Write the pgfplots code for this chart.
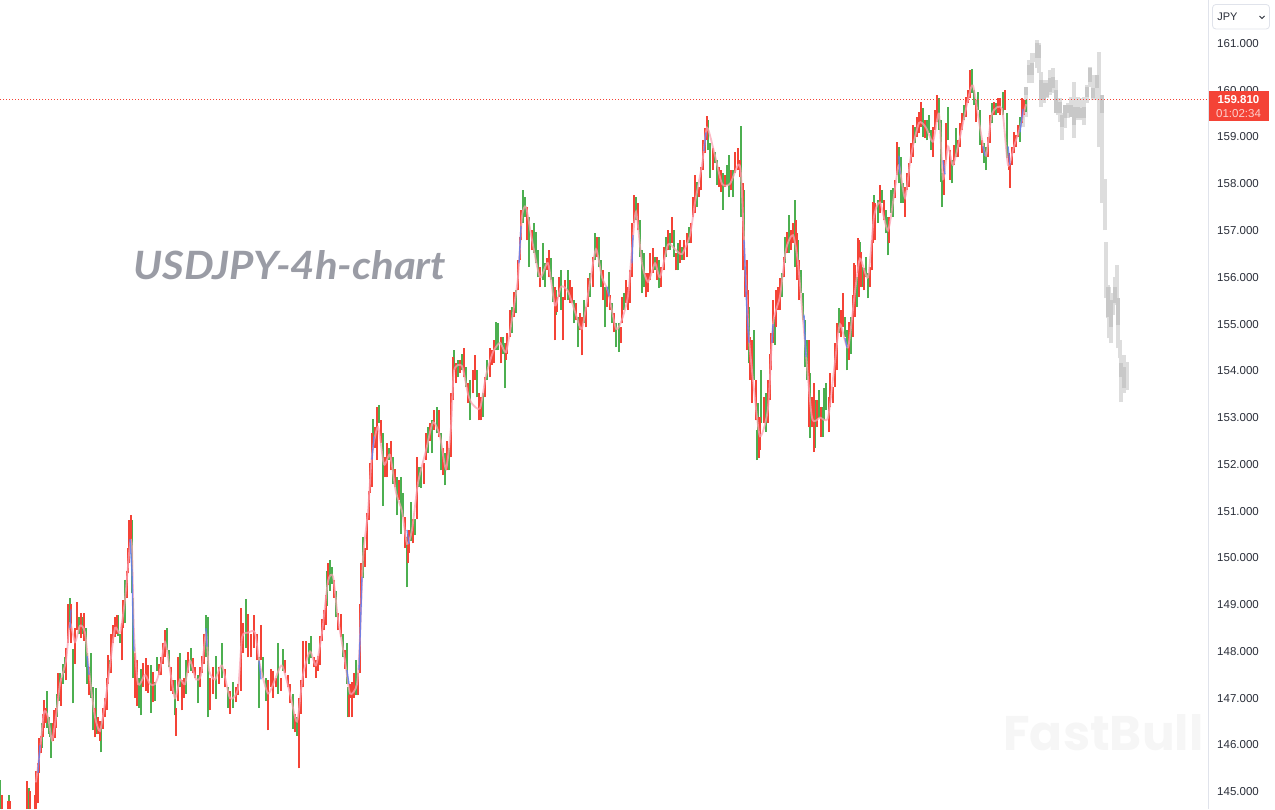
\documentclass[border=0pt]{standalone}
\usepackage{fontspec}
\setmainfont{Liberation Sans}
\newfontfamily\titlefont{Lato}
\newfontfamily\wmfont{Poppins}
\usepackage{pgfplots}
\usepackage{pgfplotstable}
\pgfplotsset{compat=1.18}
\definecolor{cR}{HTML}{F44336}
\definecolor{cG}{HTML}{4CAF50}
\definecolor{cB}{HTML}{5B7CF0}
\definecolor{cP}{HTML}{FBA3B3}
\definecolor{gW}{HTML}{DDDDDD}
\definecolor{gB}{HTML}{C8C8C8}
\definecolor{axc}{HTML}{E0E3EB}
\definecolor{txt}{HTML}{2A2E39}
\pgfplotstableread{
x lo hi
2 144.62 144.92
8 144.62 144.81
10 144.62 144.81
27 144.62 145.22
30 144.62 145.02
35 144.62 144.92
36 144.62 145.45
38 144.75 145.62
39 145.39 146.14
41 145.82 146.20
43 146.16 146.67
44 146.37 146.97
46 146.46 146.80
53 146.09 146.46
54 146.20 146.74
55 146.14 146.52
56 146.37 146.80
58 146.95 147.53
61 146.84 147.44
66 147.38 148.08
68 148.17 149.02
71 148.17 149.02
75 147.74 148.51
77 148.45 149.05
81 148.28 148.83
84 148.23 148.83
89 147.06 147.66
95 146.16 146.80
98 146.24 146.59
100 146.09 146.52
103 146.35 146.80
105 146.59 147.01
107 146.74 147.44
108 147.31 147.93
111 147.53 148.38
113 148.17 148.56
115 148.30 148.73
117 148.38 148.77
122 147.81 148.60
123 148.51 149.09
127 149.15 149.73
128 149.67 150.22
129 149.88 150.80
131 150.31 150.91
135 147.01 147.96
137 146.84 147.81
143 147.23 147.76
146 147.16 147.85
148 147.12 147.70
153 146.91 147.55
159 147.49 147.74
161 147.49 147.87
163 147.74 148.17
165 147.87 148.45
171 147.16 147.66
173 147.10 147.38
176 146.20 146.80
178 146.95 147.87
182 146.74 147.38
184 147.01 147.44
188 147.53 147.98
193 147.53 147.85
195 147.44 147.66
200 147.23 147.66
202 147.53 147.91
204 147.74 148.38
210 146.74 147.44
213 147.10 147.66
219 147.31 147.66
225 147.23 147.63
230 146.67 147.16
236 146.91 147.23
238 147.06 147.31
241 147.16 148.92
243 147.96 148.60
248 147.87 148.81
251 147.87 148.38
254 148.08 148.77
257 147.81 148.38
261 147.81 148.56
268 146.31 147.38
271 147.23 147.63
273 147.01 147.59
276 147.23 147.44
281 147.16 147.44
285 147.53 147.81
288 147.23 147.49
290 146.89 147.31
295 146.27 146.67
299 145.50 147.01
301 146.67 147.38
303 147.23 148.23
306 147.44 148.23
314 147.66 147.87
316 147.44 147.81
318 147.59 147.91
320 147.70 148.34
322 148.23 148.70
324 148.45 148.88
326 148.56 149.20
328 149.41 149.90
334 149.15 149.52
338 148.45 148.83
341 148.30 148.81
345 147.63 148.02
349 146.59 147.06
350 147.01 147.31
352 146.59 147.34
354 147.01 147.53
358 147.06 147.53
360 147.53 149.02
361 149.02 149.88
365 149.80 150.22
367 150.16 150.95
369 150.80 151.44
370 151.38 152.02
372 151.51 152.66
375 152.36 152.79
377 152.09 153.22
381 152.45 152.94
385 151.72 152.15
387 151.72 152.45
391 151.87 152.51
395 151.51 151.91
399 151.23 151.66
405 150.22 150.87
408 149.88 150.52
409 150.10 150.59
413 150.31 150.84
417 150.84 152.15
424 151.59 152.02
426 152.09 152.66
430 152.51 152.88
434 152.73 153.16
439 152.58 153.16
443 151.77 152.36
447 151.87 152.51
451 152.15 153.52
453 153.37 154.29
456 153.73 154.16
460 153.95 154.23
464 153.86 154.48
468 153.31 153.73
473 153.52 154.01
475 153.80 154.33
479 152.94 153.52
481 152.94 153.43
485 153.43 153.86
490 153.86 154.48
492 154.12 154.44
494 154.16 154.65
501 154.16 154.72
506 154.23 154.59
507 154.37 154.80
510 154.72 155.30
514 155.15 155.68
518 155.72 156.37
520 156.37 156.86
521 156.79 157.44
527 156.79 157.50
532 156.58 157.01
540 155.79 156.22
547 156.15 156.41
549 156.00 156.58
555 154.65 155.79
557 155.25 155.57
559 155.57 156.00
563 154.65 155.57
565 155.51 155.94
570 155.45 155.94
572 155.45 155.79
576 155.08 155.45
580 154.87 155.23
582 154.33 155.15
586 154.93 155.36
588 155.36 155.98
593 155.79 156.43
597 156.43 156.86
603 155.51 156.15
607 155.36 155.79
610 155.30 155.62
614 154.83 155.23
621 154.59 154.93
622 155.02 155.57
626 155.45 155.94
628 155.30 155.79
630 155.45 156.15
632 156.00 157.16
634 157.16 157.76
638 157.01 157.59
646 155.57 156.09
648 155.68 156.09
650 155.94 156.52
653 156.09 156.62
657 155.94 156.43
661 155.79 156.22
664 156.15 156.64
668 156.58 157.01
672 156.73 157.29
676 156.15 156.52
680 156.30 156.79
684 156.37 156.79
687 156.43 156.94
691 156.73 157.16
693 157.29 157.71
695 157.37 158.19
699 157.71 157.93
701 157.86 158.36
703 158.29 158.93
705 158.66 159.19
707 158.93 159.45
713 158.29 158.76
719 157.93 158.36
721 157.82 158.29
725 157.93 158.19
731 157.86 158.29
735 158.23 158.68
738 158.29 158.76
740 158.14 158.51
743 156.15 158.01
745 155.57 156.15
747 154.44 156.37
748 154.93 155.72
750 153.80 154.72
752 153.31 154.65
756 152.94 153.80
759 152.13 153.01
760 152.30 153.01
764 152.88 153.43
768 152.88 153.80
770 153.37 154.37
771 154.01 154.80
773 154.59 155.51
776 154.93 155.72
778 155.30 155.79
780 155.30 155.98
784 156.00 156.43
787 156.52 156.97
791 156.58 157.01
793 156.73 157.16
796 156.69 157.22
797 155.94 156.94
799 155.51 156.37
809 152.79 154.65
812 152.79 153.43
814 152.26 153.75
817 152.79 153.37
821 152.58 153.22
829 152.69 153.43
830 153.22 153.95
833 153.31 153.65
835 153.65 154.59
837 154.01 155.02
841 154.72 155.30
843 154.93 155.66
849 154.23 155.04
853 154.72 155.62
854 155.51 156.30
855 155.15 156.26
858 156.09 156.84
859 155.57 156.79
861 155.79 156.54
864 155.72 156.19
870 155.79 156.22
872 156.15 156.79
873 156.73 157.61
875 156.79 157.59
880 157.37 157.97
884 157.22 157.65
889 156.73 157.29
895 157.69 158.08
897 158.19 158.89
905 157.29 157.93
907 157.86 158.23
909 157.93 158.44
911 158.44 158.87
913 158.57 159.25
917 159.00 159.43
919 159.08 159.53
921 159.21 159.75
925 158.98 159.36
933 158.57 159.21
935 159.15 159.58
937 159.32 159.90
944 157.76 158.51
946 158.51 159.30
950 158.08 158.72
954 158.40 158.83
958 158.57 158.93
960 158.78 159.30
962 159.15 159.51
966 159.43 159.85
968 159.73 160.00
970 159.83 160.43
976 159.32 159.79
982 158.66 158.93
988 158.57 159.00
990 158.87 159.47
994 159.47 159.75
998 159.51 159.83
1000 159.47 159.83
1005 159.58 160.00
1009 158.29 158.66
1010 157.91 158.44
1012 158.40 158.78
1014 158.66 159.11
1016 158.78 159.04
1018 159.00 159.25
1022 159.30 159.83
1024 159.47 159.79
}\redsticks
\pgfplotstableread{
x lo hi
0 144.62 145.24
9 144.62 144.92
29 144.62 145.07
42 145.94 146.46
47 146.37 147.16
49 146.24 146.59
50 146.16 146.46
51 145.73 146.46
57 146.59 147.10
60 146.95 147.53
63 147.31 147.74
65 147.53 147.87
70 148.45 149.15
73 146.89 148.06
79 148.38 148.73
83 148.38 148.73
86 147.66 148.51
87 147.31 147.96
91 147.01 147.96
93 146.31 147.23
96 146.24 147.21
101 145.84 146.52
110 147.53 147.81
118 148.34 148.77
120 148.17 148.38
125 148.60 149.52
132 149.24 150.80
131.5 150.31 150.87
133 147.44 149.15
139 146.80 147.44
141 146.63 147.63
151 146.69 147.70
155 146.95 147.34
157 147.59 147.87
167 148.02 148.51
169 147.66 148.02
175 146.63 147.38
180 147.23 147.96
186 147.10 147.81
191 147.59 148.08
198 146.89 147.49
206 147.87 148.77
208 146.59 148.73
216 146.99 147.91
222 147.44 148.17
228 146.80 147.23
233 146.78 147.34
246 148.08 149.13
259 146.80 147.87
263 147.44 147.87
266 146.95 147.44
278 147.10 148.17
283 147.59 148.06
293 146.35 147.10
297 146.20 146.59
309 147.74 148.19
311 147.85 148.34
327 148.98 149.73
330 149.30 149.95
332 149.45 149.80
336 148.73 149.30
343 147.87 148.38
347 147.31 148.17
348 146.59 147.23
356 147.06 147.81
363 149.58 150.44
373 152.45 152.98
379 152.88 153.26
383 151.12 152.66
389 152.09 152.36
393 151.59 152.15
397 150.91 151.72
401 150.52 151.72
403 150.87 151.38
407 149.37 150.44
411 150.37 151.19
415 150.48 150.84
419 151.51 151.94
421 151.49 151.94
428 152.24 152.79
432 152.24 152.94
437 152.66 153.22
441 151.87 152.66
445 151.55 152.24
449 151.87 152.36
454 154.01 154.44
458 153.86 154.23
462 154.01 154.37
466 153.65 154.08
470 152.94 153.80
477 153.43 154.01
483 153.01 153.52
487 153.80 154.23
496 154.44 155.04
498 154.44 155.02
503 154.37 154.72
505 153.63 154.59
512 154.80 155.36
516 155.23 155.72
523 157.16 157.86
525 157.29 157.71
529 156.22 157.29
534 156.52 157.16
536 156.30 156.97
538 156.00 156.58
543 155.94 156.73
545 155.79 156.30
551 155.94 156.41
553 155.47 156.00
556 155.19 155.72
561 155.30 156.15
568 155.51 156.15
574 155.02 155.51
578 154.50 155.15
584 155.02 155.51
590 155.57 156.09
595 156.37 156.94
599 156.22 156.86
601 155.79 156.37
605 154.93 155.79
609 155.57 156.11
612 155.02 155.45
616 154.50 155.02
619 154.40 155.02
624 155.30 155.66
636 157.22 157.71
640 156.43 157.22
642 155.66 156.58
644 155.79 156.52
655 156.15 156.43
659 155.77 156.37
666 156.43 156.86
670 156.58 156.94
674 156.43 157.01
678 156.15 156.73
682 156.37 156.64
689 156.73 157.07
697 157.50 158.03
708 158.72 159.36
710 158.12 158.87
715 158.44 158.68
717 157.97 158.51
723 157.44 158.23
727 157.97 158.40
729 157.71 158.61
733 157.71 158.29
741 157.29 159.23
744 156.15 157.86
749 154.16 155.36
754 153.80 154.87
758 152.58 153.31
757 152.09 152.73
761 152.88 154.01
766 152.69 153.52
775 154.55 155.15
782 155.57 156.09
785 156.30 156.86
789 156.52 157.33
795 156.22 157.65
798 156.26 156.79
801 155.66 156.15
803 155.08 155.66
805 154.08 155.08
807 153.80 154.65
810 152.56 153.95
815 152.34 153.37
819 153.00 153.58
823 152.58 153.22
824 152.94 153.63
826 153.16 153.75
839 154.80 155.34
845 154.72 155.15
847 154.01 154.87
851 154.37 155.15
857 155.36 156.00
860 156.22 156.75
862 155.79 156.22
866 156.00 156.43
868 155.55 156.09
874 157.16 157.76
878 157.16 157.65
882 157.59 157.86
886 156.94 157.43
888 156.47 157.29
891 157.37 157.86
893 157.29 157.91
899 158.01 158.78
901 157.59 158.57
903 157.59 158.01
915 158.87 159.21
923 159.00 159.62
927 158.93 159.36
929 159.08 159.47
931 158.72 159.15
939 159.15 159.83
941 158.04 159.36
942 157.50 158.23
948 158.93 159.64
952 158.01 158.51
956 158.57 159.19
964 159.36 159.68
972 159.94 160.45
974 159.68 160.00
978 159.58 159.96
980 158.83 159.58
984 158.44 158.87
986 158.29 158.78
992 159.30 159.73
996 159.47 159.73
1003 159.47 159.96
1007 158.55 159.51
1020 158.89 159.43
1026 159.53 159.79
}\greensticks
\pgfplotstableread{
x lo hi
1023 159.21 159.75
1026 159.43 160.07
1029 160.15 160.65
1032 160.15 160.80
1035 160.60 160.80
1037 160.47 161.07
1039 160.37 161.01
1041 159.64 160.39
1044 159.73 160.22
1047 159.83 160.22
1050 159.90 160.43
1053 159.94 160.47
1056 159.51 160.22
1058 159.47 159.83
1060 159.32 159.83
1062 158.93 159.51
1065 159.19 159.68
1068 159.40 159.73
1071 159.43 159.85
1074 158.98 160.18
1078 159.36 159.85
1081 159.36 159.83
1084 159.25 159.85
1087 159.73 160.11
1090 160.07 160.50
1093 159.79 160.33
1097 159.79 160.33
1099 158.78 160.82
1102 157.59 159.90
1105 157.01 158.10
1106 155.55 156.75
1108 155.12 155.83
1109 154.70 155.79
1111 154.59 155.66
1113 155.19 155.57
1115 155.40 156.00
1117 155.45 156.26
1118 154.48 155.55
1120 154.27 154.65
1121 153.33 154.27
1124 153.52 154.33
1127 153.58 154.18
}\greywicks
\pgfplotstableread{
x lo hi
1026 159.90 160.07
1029 160.33 160.54
1032 160.33 160.58
1037 160.69 161.01
1039 160.69 160.97
1041 159.79 160.22
1044 159.79 160.15
1047 159.85 160.15
1050 159.96 160.26
1053 160.05 160.28
1056 159.51 160.00
1060 159.51 159.75
1062 159.21 159.47
1065 159.40 159.68
1068 159.51 159.68
1071 159.43 159.68
1074 159.25 159.64
1078 159.40 159.64
1081 159.40 159.62
1084 159.40 159.64
1087 159.85 160.07
1090 160.18 160.47
1093 159.83 160.05
1097 160.05 160.33
1102 159.51 159.90
1108 155.15 155.79
1111 154.93 155.51
1115 155.45 155.79
1118 154.98 155.55
1121 153.86 154.16
1124 153.63 154.08
}\greybodies
\pgfplotsset{
  stick/.style 2 args={draw=none,mark=none,forget plot,
    error bars/.cd,y dir=plus,y explicit,error mark=none,
    error bar style={draw=#1,line width=#2,line cap=butt,solid}},
}
\begin{document}
\begin{tikzpicture}[x=1pt,y=1pt]
\path[use as bounding box] (0,0) rectangle (765pt,485.4pt);
\begin{scope}[x=0.6pt,y=-0.6pt,yshift=485.4pt]
  \node[anchor=base west,inner sep=0,text=black!3.5] at (1003,750) {\wmfont\bfseries\fontsize{29.2}{30}\selectfont FastBull};
\end{scope}
\begin{axis}[
  at={(0,0)},anchor=south west,scale only axis,
  width=724.8pt,height=485.4pt,
  xmin=0,xmax=1208,ymin=144.63,ymax=161.93,
  hide x axis,
  axis y line=right,
  axis line style={-,draw=axc,line width=0.6pt},
  ytick={145,146,...,161},
  major tick length=0pt,
  tick style={draw=none},
  yticklabel style={font=\fontsize{6.9}{8}\selectfont,text=txt,xshift=2pt,/pgf/number format/.cd,fixed,fixed zerofill,precision=3,1000 sep={},assume math mode=true},
  unbounded coords=jump,
]
\addplot[stick={gW}{2.1pt}] table[x=x,y=lo,y error expr=\thisrow{hi}-\thisrow{lo}]{\greywicks};
\addplot[stick={gB}{2.1pt}] table[x=x,y=lo,y error expr=\thisrow{hi}-\thisrow{lo}]{\greybodies};
\addplot[stick={cG}{1.15pt}] table[x=x,y=lo,y error expr=\thisrow{hi}-\thisrow{lo}]{\greensticks};
\addplot[stick={cR}{1.15pt}] table[x=x,y=lo,y error expr=\thisrow{hi}-\thisrow{lo}]{\redsticks};
\addplot[cP,line width=1.1pt,opacity=0.75,smooth,tension=0.4,mark=none,forget plot] coordinates {
(36,145.2)(40,145.9)(44,146.7)(48,146.6)(52,146.1)(56,146.6)(60,147.3)(66,147.8)(70,148.6)(75,148.2)
(80,148.55)(85,148.4)(90,147.4)(95,146.6)(100,146.3)(105,146.9)(110,147.7)(115,148.5)(120,148.4)(125,149.1)
(130,150.3)(132,150.2)(134,148.4)(138,147.3)(145,147.5)(150,147.3)(155,147.3)(160,147.6)(165,148.2)(170,147.6)
(175,147.0)(180,147.4)(185,147.3)(190,147.8)(196,147.4)(201,147.5)(206,148.4)(209,147.6)(215,147.4)(222,147.7)
(230,147.0)(238,147.2)(242,148.3)(248,148.4)(255,148.4)(260,147.7)(268,147.1)(275,147.4)(282,147.7)(290,147.1)
(297,146.5)(303,147.5)(310,148.0)(316,147.7)(322,148.4)(328,149.5)(333,149.6)(338,148.7)(345,147.8)(350,147.1)
(357,147.3)(360,148.3)(363,150.0)(368,151.0)(372,152.2)(378,152.8)(384,152.0)(390,152.2)(396,151.4)(402,151.0)
(407,150.3)(412,150.6)(418,151.6)(426,152.3)(433,152.9)(440,152.6)(446,151.9)(451,152.8)(454,154.0)(462,154.1)
(468,153.5)(472,153.3)(480,153.2)(486,153.9)(493,154.4)(500,154.6)(506,154.4)(512,155.1)(518,156.0)(522,157.3)
(526,157.5)(532,156.8)(540,156.0)(548,156.3)(555,155.4)(561,155.8)(568,155.7)(576,155.2)(582,154.9)(590,155.9)
(596,156.6)(602,156.0)(608,155.7)(616,154.9)(622,155.1)(628,155.6)(632,156.6)(636,157.4)(642,156.3)(648,155.9)
(655,156.3)(660,156.0)(668,156.7)(675,156.6)(682,156.5)(690,156.9)(695,157.6)(702,158.4)(707,159.2)(715,158.6)
(722,158.0)(730,158.0)(738,158.4)(741,158.2)(745,156.3)(749,154.7)(754,153.6)(760,152.6)(768,153.2)(773,155.0)
(780,155.6)(786,156.6)(793,156.9)(798,156.3)(805,154.6)(812,153.0)(820,153.0)(828,153.0)(835,154.2)(840,155.0)
(848,154.5)(855,155.7)(860,156.4)(868,156.0)(874,157.3)(880,157.6)(888,157.0)(895,157.9)(899,158.4)(905,157.7)
(911,158.6)(919,159.3)(926,159.2)(933,158.9)(939,159.5)(943,158.1)(948,158.8)(953,158.4)(960,159.0)(968,159.8)
(973,160.1)(980,159.2)(986,158.6)(992,159.5)(1002,159.6)(1008,158.4)(1014,158.8)(1020,159.2)(1026,159.7)
};
\addplot[cB,line width=0.8pt,opacity=0.85,mark=none,forget plot] coordinates {
(38,145.4)(40,146.0)(nan,nan)(70,148.5)(71,148.9)(nan,nan)(87,147.9)(89,147.5)(nan,nan)
(130,150.4)(132,149.7)(133,148.6)(134,148.0)(nan,nan)(206,148.5)(207,148.1)(nan,nan)(259,147.8)(261,147.4)(nan,nan)
(347,147.6)(349,147.3)(nan,nan)(359,147.6)(361,148.9)(362,149.6)(nan,nan)(372,152.1)(374,152.6)(nan,nan)
(407,150.6)(409,150.3)(nan,nan)(519,156.3)(521,157.1)(nan,nan)(607,155.8)(609,155.6)(nan,nan)(632,156.3)(633,156.9)(nan,nan)
(704,158.7)(706,159.1)(nan,nan)(744,156.8)(747,155.2)(749,154.6)(nan,nan)(772,154.6)(773,155.0)(nan,nan)(804,155.2)(806,154.3)(nan,nan)
(845,154.7)(847,154.5)(nan,nan)(899,158.6)(900,158.2)(nan,nan)(943,158.5)(945,158.2)(nan,nan)(983,158.8)(985,158.6)(nan,nan)
(1008,158.8)(1010,158.4)(nan,nan)(1020,159.1)(1023,159.6)
};
\addplot[cR,line width=0.4pt,dash pattern=on 0.6pt off 1.2pt,mark=none,forget plot] coordinates {(0,159.81)(1208,159.81)};
\end{axis}
\begin{scope}[x=0.6pt,y=-0.6pt,yshift=485.4pt]
  \node[anchor=base west,inner sep=0,text={rgb,255:red,154;green,156;blue,165}] at (133,279) {\scalebox{1.076}[1]{\titlefont\bfseries\itshape\fontsize{23.4}{24}\selectfont USDJPY-4h-chart}};
  \fill[cR] (1209,91) rectangle (1269,121);
  \node[anchor=center,inner sep=0,text=white] at (1238.5,99.5) {\fontsize{6.9}{8}\selectfont\bfseries 159.810};
  \node[anchor=center,inner sep=0,text=white,opacity=0.75] at (1238.5,113.5) {\fontsize{6.9}{8}\selectfont 01:02:34};
  \filldraw[fill=white,draw=axc,line width=0.5pt,rounded corners=2pt] (1212.5,4.5) rectangle (1269.5,29);
  \node[anchor=west,inner sep=0,text=txt] at (1217,16.5) {\fontsize{6.6}{8}\selectfont JPY};
  \draw[txt,line width=0.5pt] (1259.5,16) -- (1262,18.5) -- (1264.5,16);
\end{scope}
\end{tikzpicture}
\end{document}
